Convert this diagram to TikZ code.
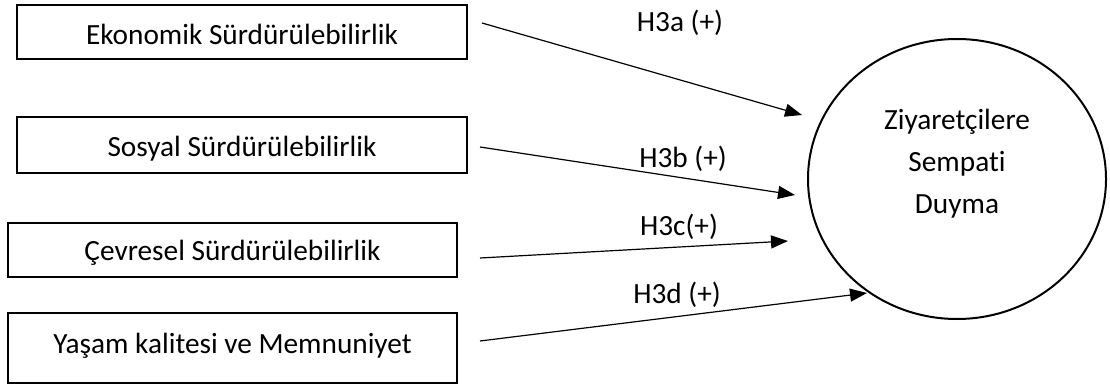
\documentclass[tikz,border=0pt]{standalone}
\usepackage{fontspec}
\setmainfont{Carlito}[Ligatures=NoCommon]
\usetikzlibrary{arrows.meta,shapes.geometric}
\begin{document}
\begin{tikzpicture}[x=1pt,y=-1pt,
  every node/.style={font=\fontsize{29.3}{42}\selectfont, inner sep=0pt, outer sep=0pt},
  boxnode/.style={draw, line width=2pt, minimum width=#1, text height=18.5pt, text depth=0pt},
  conn/.style={line width=1.2pt, -{Triangle[length=17pt,width=13pt]}},
  lab/.style={text height=18.5pt, text depth=0pt}
]
\useasboundingbox (0,0) rectangle (1110,385);
% boxes
\node[boxnode=450pt, minimum height=54pt, text height=25pt] (b1) at (242,32) {Ekonomik Sürdürülebilirlik};
\node[boxnode=450pt, minimum height=56pt, text height=23pt] (b2) at (242,145) {Sosyal Sürdürülebilirlik};
\node[boxnode=449pt, minimum height=54pt, text height=20.5pt] (b3) at (232.5,250) {Çevresel Sürdürülebilirlik};
\node[boxnode=449pt, minimum height=70pt, text depth=8pt] (b4) at (232.5,348) {Yaşam kalitesi ve Memnuniyet};
% ellipse
\node[draw, ellipse, line width=2pt, minimum width=298pt, minimum height=280pt] (c) at (957,179) {};
\node[align=center] (ct) at (957,164) {Ziyaretçilere\\Sempati\\Duyma};
% arrow end points
\coordinate (s1) at (482,23);  \coordinate (e1) at (802,115);
\coordinate (s2) at (480,147); \coordinate (e2) at (795,195);
\coordinate (s3) at (480,258); \coordinate (e3) at (788,241);
\coordinate (s4) at (480,341); \coordinate (e4) at (867,293);
\draw[conn] (s1) -- (e1);
\draw[conn] (s2) -- (e2);
\draw[conn] (s3) -- (e3);
\draw[conn] (s4) -- (e4);
% labels
\node[lab] (l1) at (680,22.5) {H3a (+)};
\node[lab] (l2) at (683,158.5) {H3b (+)};
\node[lab] (l3) at (679,226.5) {H3c(+)};
\node[lab] (l4) at (677,294.5) {H3d (+)};
\end{tikzpicture}
\end{document}
